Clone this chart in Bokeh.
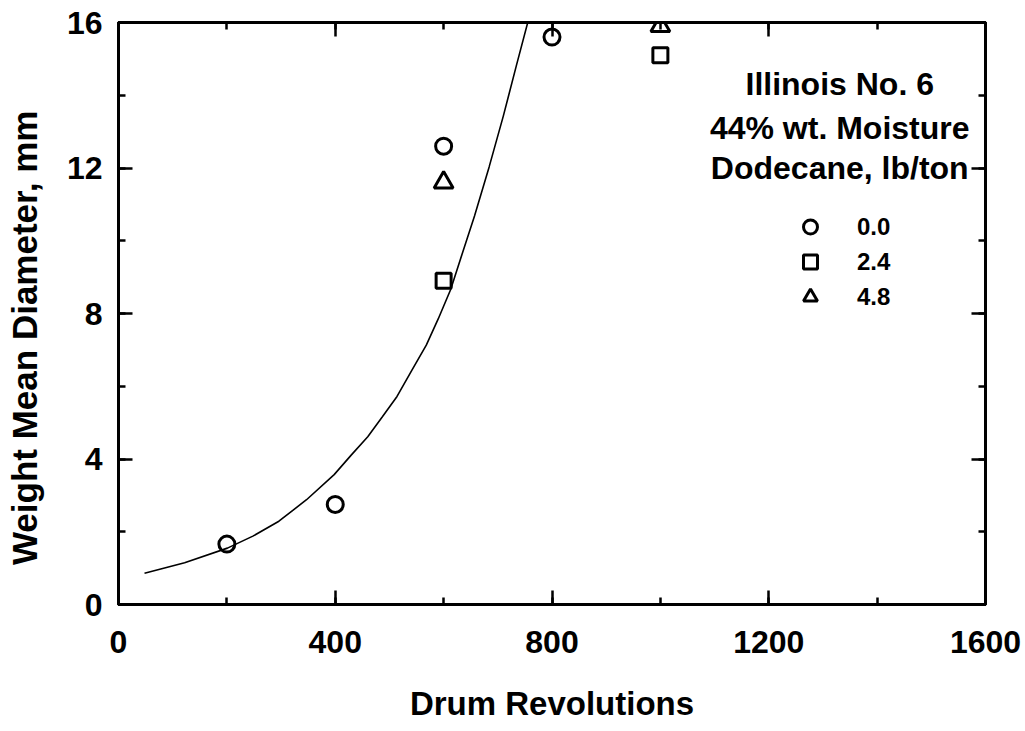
from bokeh.plotting import figure
from bokeh.models import (LinearAxis, SingleIntervalTicker, Label, Legend, LegendItem,
                          CustomJSTickFormatter)
from bokeh.embed import file_html
from bokeh.resources import INLINE

# ---- data ----
rev_00 = [200, 400, 600, 800]
wmd_00 = [1.66, 2.75, 12.6, 15.6]
rev_24 = [600, 1000]
wmd_24 = [8.9, 15.1]
rev_48 = [600, 1000]
wmd_48 = [11.6, 15.9]

# fitted curve, points
curve_rev = [48, 122, 201, 248, 296, 347, 398, 429, 460, 487, 514, 541, 568,
             590, 613, 634, 657, 684, 710, 734, 757]
curve_wmd = [0.86, 1.15, 1.55, 1.88, 2.29, 2.88, 3.57, 4.10, 4.61, 5.16, 5.72,
             6.43, 7.13, 7.85, 8.66, 9.63, 10.68, 12.03, 13.42, 14.80, 16.10]

header_lines = ["Illinois No. 6", "44% wt. Moisture", "Dodecane, lb/ton"]
legend_labels = ["0.0", "2.4", "4.8"]
x_title = "Drum Revolutions"
y_title = "Weight Mean Diameter, mm"

FONT = "Liberation Sans"

p = figure(width=1025, height=731, x_range=(0, 1600), y_range=(0, 16),
           output_backend="svg", toolbar_location=None,
           min_border_left=118, min_border_right=40,
           min_border_top=22, min_border_bottom=127)
p.grid.visible = False
p.outline_line_color = "black"
p.outline_line_width = 3
p.background_fill_color = "white"
p.border_fill_color = "white"

p.line(curve_rev, curve_wmd, line_color="black", line_width=1.6)

r0 = p.scatter(rev_00, wmd_00, marker="circle", size=16, fill_color=None,
               line_color="black", line_width=3)
r1 = p.scatter(rev_24, wmd_24, marker="square", size=15, fill_color=None,
               line_color="black", line_width=3)
r2 = p.scatter(rev_48, wmd_48, marker="triangle", size=19, fill_color=None,
               line_color="black", line_width=3)

def style_axis(ax, show_labels):
    ax.axis_line_color = "black"
    ax.axis_line_width = 3
    ax.major_tick_in = 14
    ax.major_tick_out = 0
    ax.minor_tick_in = 7
    ax.minor_tick_out = 0
    ax.major_tick_line_width = 2.5
    ax.minor_tick_line_width = 2.5
    ax.major_tick_line_color = "black"
    ax.minor_tick_line_color = "black"
    if show_labels:
        ax.major_label_text_font = FONT
        ax.major_label_text_font_style = "bold"
        ax.major_label_text_font_size = "32px"
        ax.major_label_text_color = "black"
        ax.axis_label_text_font = FONT
        ax.axis_label_text_font_style = "bold"
        ax.axis_label_text_color = "black"
    else:
        ax.formatter = CustomJSTickFormatter(code="return ''")
        ax.major_label_standoff = 0

xa = p.xaxis[0]
xa.ticker = SingleIntervalTicker(interval=400, num_minor_ticks=2)
style_axis(xa, True)
xa.axis_label = x_title
xa.axis_label_text_font_size = "33px"
xa.major_label_standoff = 26
xa.axis_label_standoff = 29

ya = p.yaxis[0]
ya.ticker = SingleIntervalTicker(interval=4, num_minor_ticks=2)
style_axis(ya, True)
# trailing no-break spaces shift the title down, as in the original
ya.axis_label = y_title + "\u00a0" * 5
ya.axis_label_text_font_size = "35px"
ya.major_label_standoff = 16
ya.axis_label_standoff = 20

top = LinearAxis(ticker=SingleIntervalTicker(interval=400, num_minor_ticks=2))
style_axis(top, False)
p.add_layout(top, "above")
right = LinearAxis(ticker=SingleIntervalTicker(interval=4, num_minor_ticks=2))
style_axis(right, False)
p.add_layout(right, "right")

# header text
for txt, yv in zip(header_lines, [14.32, 13.09, 11.99]):
    p.add_layout(Label(x=1331, y=yv, text=txt, text_align="center",
                       text_baseline="middle", text_font=FONT,
                       text_font_style="bold", text_font_size="32px",
                       text_color="black"))

legend = Legend(items=[LegendItem(label=legend_labels[0], renderers=[r0]),
                       LegendItem(label=legend_labels[1], renderers=[r1]),
                       LegendItem(label=legend_labels[2], renderers=[r2])],
                location=(672, 290), orientation="vertical")
legend.label_text_font = FONT
legend.label_text_font_style = "bold"
legend.label_text_font_size = "24px"
legend.label_text_color = "black"
legend.glyph_width = 40
legend.glyph_height = 35
legend.label_height = 35
legend.spacing = 0
legend.padding = 0
legend.margin = 0
legend.label_standoff = 27
legend.border_line_color = None
legend.background_fill_alpha = 0
p.add_layout(legend, "center")

open("out.html", "w").write(file_html(p, INLINE))
